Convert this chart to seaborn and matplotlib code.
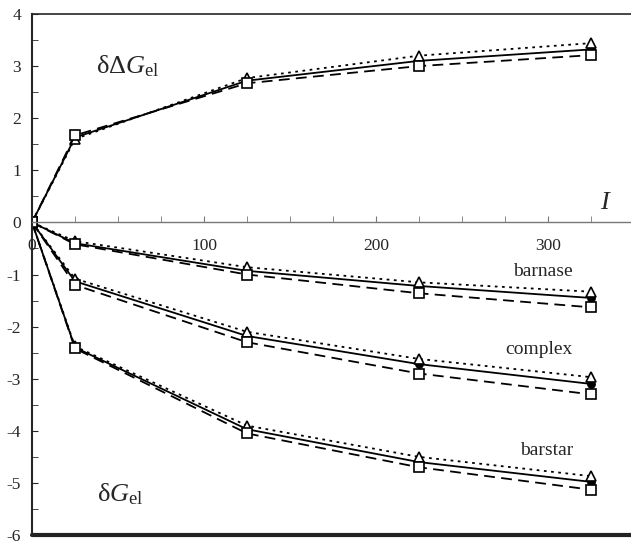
import matplotlib
matplotlib.use("Agg")
import matplotlib.pyplot as plt
from matplotlib.ticker import MultipleLocator
import seaborn as sns

# ===============================
# DATA
# ===============================

I = [0, 25, 125, 225, 325]

ddG_tri = [0, 1.60, 2.77, 3.20, 3.44]
ddG_circ = [0, 1.63, 2.72, 3.10, 3.32]
ddG_sq = [0, 1.67, 2.67, 3.00, 3.21]

barnase_tri = [0, -0.36, -0.86, -1.15, -1.33]
barnase_circ = [0, -0.40, -0.93, -1.22, -1.45]
barnase_sq = [0, -0.42, -1.00, -1.36, -1.63]

complex_tri = [0, -1.08, -2.10, -2.62, -2.97]
complex_circ = [0, -1.13, -2.18, -2.72, -3.10]
complex_sq = [0, -1.20, -2.30, -2.90, -3.30]

barstar_tri = [0, -2.38, -3.90, -4.50, -4.87]
barstar_circ = [0, -2.40, -3.97, -4.60, -4.98]
barstar_sq = [0, -2.42, -4.05, -4.70, -5.13]

curve_labels = ["barnase", "complex", "barstar"]

# ===============================
# STYLE
# ===============================

sns.set_style("ticks")
plt.rcParams["font.family"] = ["Liberation Serif", "DejaVu Serif"]
plt.rcParams["mathtext.fontset"] = "custom"
plt.rcParams["mathtext.rm"] = "Liberation Serif"
plt.rcParams["mathtext.it"] = "Liberation Serif:italic"

fig = plt.figure(figsize=(6.31, 5.44), dpi=100)
ax = fig.add_axes([0.0507, 0.0165, 0.954, 0.9578])

circ_style = dict(color="black", linestyle="-", linewidth=1.3, marker="o",
                  markersize=5.5, markerfacecolor="black", markeredgecolor="black")
tri_style = dict(color="black", linestyle=(0, (1.5, 2.5)), linewidth=1.3, marker="^",
                 markersize=7.5, markerfacecolor="white", markeredgecolor="black",
                 markeredgewidth=1.2)
sq_style = dict(color="black", linestyle=(0, (6, 3.5)), linewidth=1.3, marker="s",
                markersize=6.5, markerfacecolor="white", markeredgecolor="black",
                markeredgewidth=1.2)

groups = [
    (ddG_circ, ddG_tri, ddG_sq),
    (barnase_circ, barnase_tri, barnase_sq),
    (complex_circ, complex_tri, complex_sq),
    (barstar_circ, barstar_tri, barstar_sq),
]

for circ, tri, sq in groups:
    sns.lineplot(x=I, y=circ, ax=ax, **circ_style)
    sns.lineplot(x=I, y=tri, ax=ax, **tri_style)
    sns.lineplot(x=I, y=sq, ax=ax, **sq_style)

ax.set_xlim(0, 350)
ax.set_ylim(-6, 4)

# x axis drawn through zero
ax.spines["bottom"].set_position(("data", 0))
ax.spines["bottom"].set_color("#777777")
ax.spines["bottom"].set_linewidth(1.0)
ax.spines["right"].set_visible(False)
ax.spines["top"].set_linewidth(1.2)
ax.spines["left"].set_linewidth(1.5)
ax.axhline(-6, color="#222222", linewidth=3, clip_on=False)

ax.xaxis.set_major_locator(MultipleLocator(100))
ax.xaxis.set_minor_locator(MultipleLocator(25))
ax.yaxis.set_major_locator(MultipleLocator(1))
ax.yaxis.set_minor_locator(MultipleLocator(0.5))
ax.tick_params(axis="x", which="both", direction="in", length=4, color="#777777",
               labelsize=12.5, pad=11)
ax.tick_params(axis="y", which="both", direction="in", length=4, labelsize=12.5, pad=8)
ax.set_xticks([0, 100, 200, 300])
ax.set_xticklabels(["0", "100", "200", "300"])
ax.set_yticks(range(-6, 5))
ax.set_yticklabels([str(v) for v in range(-6, 5)])

ax.text(37, 3.0, r"δΔ$\mathit{G}_{\mathrm{el}}$", fontsize=19, ha="left", va="center")
ax.text(38, -5.22, r"δ$\mathit{G}_{\mathrm{el}}$", fontsize=19, ha="left", va="center")
ax.text(333, 0.38, "I", fontsize=19, style="italic", ha="center", va="center")

for label, x, y in zip(curve_labels, [297, 295, 299], [-0.94, -2.43, -4.38]):
    ax.text(x, y, label, fontsize=14, ha="center", va="center")

ax.set_xlabel("")
ax.set_ylabel("")

plt.savefig("out.png", dpi=100)
